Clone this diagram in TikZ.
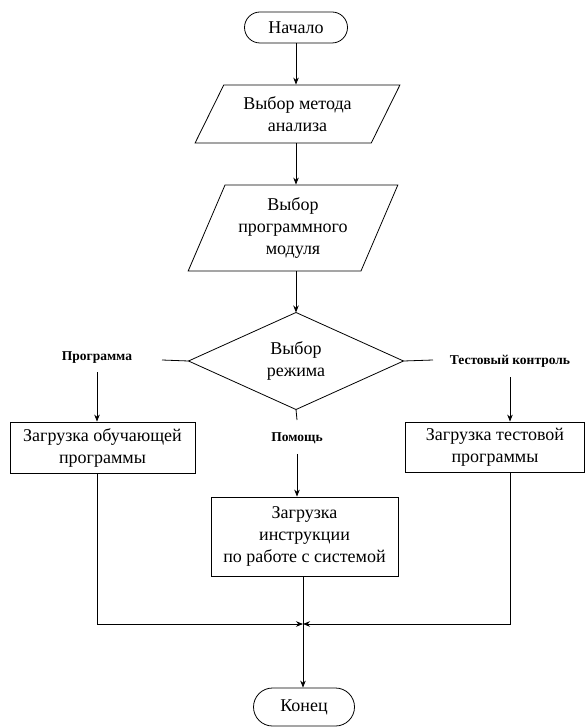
\documentclass[tikz,border=0pt]{standalone}
\usepackage{fontspec}
\setmainfont{Liberation Serif}
\newfontfamily\tnr{Liberation Serif}
\usetikzlibrary{shapes.geometric,shapes.misc,arrows.meta}
\begin{document}
\begin{tikzpicture}[x=1pt,y=-1pt,
  every node/.style={font=\tnr\fontsize{18}{22}\selectfont, align=center, inner sep=0pt},
  term/.style={draw, rounded rectangle, minimum width=103pt, minimum height=31pt, line width=0.8pt},
  io/.style={draw, trapezium, trapezium stretches=true, line width=0.8pt},
  proc/.style={draw, rectangle, line width=0.8pt},
  dec/.style={draw, diamond, minimum width=215pt, minimum height=92pt, line width=0.8pt, outer sep=0pt},
  lbl/.style={font=\tnr\fontsize{13.5}{16}\selectfont\bfseries},
  ln/.style={line width=0.8pt},
  arr/.style={line width=0.8pt, -{Stealth[length=7pt,width=5.5pt]}}
]
\useasboundingbox (0,0) rectangle (586,727);

\node[term] (start) at (296,27.5) {Начало};
\node[io, trapezium left angle=59, trapezium right angle=121, minimum width=205pt, minimum height=58pt] (p1) at (297.5,114) {Выбор метода\\анализа};
\node[io, trapezium left angle=64, trapezium right angle=116, minimum width=210pt, minimum height=86pt] (p2) at (293,228) {Выбор\\программного\\модуля};
\node[dec] (dia) at (296,361) {Выбор\\режима};

\node[lbl] (lprog) at (97,358) {Программа};
\node[lbl] (ltest) at (510,361) {Тестовый контроль};
\node[lbl] (lhelp) at (297,438) {Помощь};

\node[proc, minimum width=185pt, minimum height=51pt] (boxL) at (102.5,447.5) {Загрузка обучающей\\программы};
\node[proc, minimum width=179pt, minimum height=50pt] (boxR) at (495,447) {Загрузка тестовой\\программы};
\node[proc, minimum width=187pt, minimum height=79pt] (boxM) at (304.5,536.5) {Загрузка\\инструкции\\по работе с системой};
\node[term, minimum width=101pt, minimum height=38pt] (end) at (304,707) {Конец};

\coordinate (j) at (303,624);
\coordinate (dl) at (162,360);
\coordinate (dr) at (433,360);
\coordinate (db) at (297,420);

\draw[arr] (start.south) -- (start.south |- p1.north);
\draw[arr] (p1.south -| start.south) -- (start.south |- p2.north);
\draw[arr] (p2.south -| dia.north) -- (dia.north);

\draw[ln] (dia.west) -- (dl);
\draw[ln] (dia.east) -- (dr);
\draw[ln] (dia.south) -- (db);

\draw[arr] ([yshift=-8pt]lprog.south) -- (lprog |- boxL.north);
\draw[arr] ([yshift=-10pt]ltest.south) -- (ltest |- boxR.north);
\draw[arr] ([yshift=-10pt]lhelp.south) -- (lhelp |- boxM.north);

\draw[arr] (lprog |- boxL.south) -- (lprog |- j) -- (j);
\draw[arr] (ltest |- boxR.south) -- (ltest |- j) -- (j);
\draw[ln] (j |- boxM.south) -- (j);
\draw[arr] (j) -- (j |- end.north);
\end{tikzpicture}
\end{document}
